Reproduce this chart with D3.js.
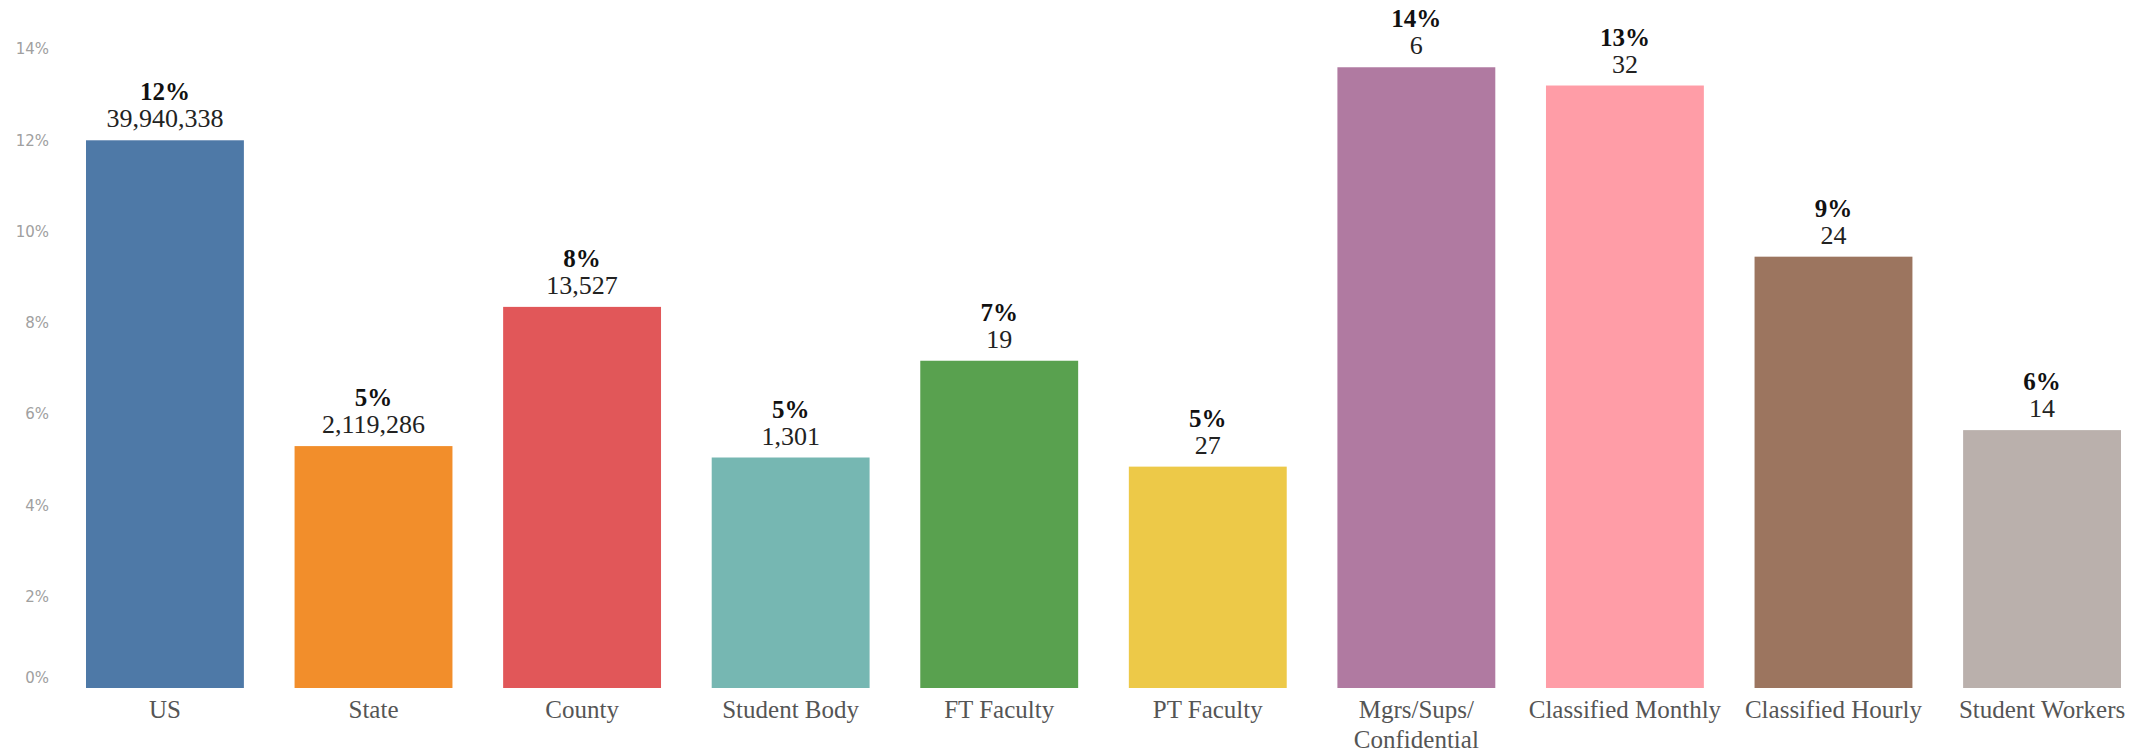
<!DOCTYPE html>
<html>
<head>
<meta charset="utf-8">
<script src="https://cdn.jsdelivr.net/npm/d3@7"></script>
<style>
  body { margin: 0; background: #fff; }
</style>
</head>
<body>
<div id="chart"></div>
<script>
// Groups along the x axis
var groups = ["US", "State", "County", "Student Body", "FT Faculty", "PT Faculty",
    "Mgrs/Sups/ Confidential", "Classified Monthly", "Classified Hourly", "Student Workers"];
// Share (in %)
var shares = [12.0, 5.3, 8.35, 5.05, 7.17, 4.85, 13.6, 13.2, 9.45, 5.65];
// Counts shown under the percentage
var counts = [39940338, 2119286, 13527, 1301, 19, 27, 6, 32, 24, 14];
var colors = ["#4e79a7", "#f28e2b", "#e15759", "#76b7b2", "#59a14f", "#edc948",
    "#b07aa1", "#ff9da7", "#9c755f", "#bab0ac"];
var yTicks = [0, 2, 4, 6, 8, 10, 12, 14];

var data = groups.map(function(g, i) {
    return { group: g, share: shares[i], count: counts[i], color: colors[i] };
});

var width = 2136, height = 754;
var plot = { left: 86, right: 2121, top: 49, bottom: 688 };

var svg = d3.select("#chart").append("svg")
    .attr("width", width)
    .attr("height", height);

// Scales
var x = d3.scaleBand()
    .domain(groups)
    .range([plot.left, plot.right])
    .paddingInner(0.243)
    .paddingOuter(0);

var y = d3.scaleLinear()
    .domain([0, 14])
    .range([plot.bottom, plot.top]);

// Y axis labels only (no line, no ticks)
var yAxis = svg.append("g")
    .attr("transform", "translate(" + 49 + ",0)")
    .call(d3.axisLeft(y).tickValues(yTicks).tickSize(0).tickPadding(0)
        .tickFormat(function(d) { return d + "%"; }));
yAxis.select(".domain").remove();
yAxis.selectAll("text")
    .attr("font-family", "'DejaVu Sans', sans-serif")
    .attr("font-size", "15px")
    .attr("fill", "#a0a0a0")
    .attr("dy", function(d) { return d === 0 ? "-0.4em" : "0.32em"; });

// Bars
svg.selectAll("rect.bar")
    .data(data)
    .enter()
    .append("rect")
    .attr("class", "bar")
    .attr("x", d => x(d.group))
    .attr("y", d => y(d.share))
    .attr("width", x.bandwidth())
    .attr("height", d => y(0) - y(d.share))
    .attr("fill", d => d.color);

// Count labels
svg.selectAll("text.count")
    .data(data)
    .enter()
    .append("text")
    .attr("class", "count")
    .attr("x", d => x(d.group) + x.bandwidth() / 2)
    .attr("y", d => y(d.share) - 13)
    .attr("text-anchor", "middle")
    .attr("font-family", "'Liberation Serif', 'Times New Roman', serif")
    .attr("font-size", "26px")
    .attr("fill", "#222")
    .text(d => d3.format(",")(d.count));

// Percentage labels
svg.selectAll("text.pct")
    .data(data)
    .enter()
    .append("text")
    .attr("class", "pct")
    .attr("x", d => x(d.group) + x.bandwidth() / 2)
    .attr("y", d => y(d.share) - 40)
    .attr("text-anchor", "middle")
    .attr("font-family", "'Liberation Serif', 'Times New Roman', serif")
    .attr("font-size", "25px")
    .attr("font-weight", "bold")
    .attr("fill", "#111")
    .text(d => Math.round(d.share) + "%");

// Category labels under the bars (the Mgrs label wraps onto two lines)
var xLabels = svg.selectAll("text.xlabel")
    .data(data)
    .enter()
    .append("text")
    .attr("class", "xlabel")
    .attr("x", d => x(d.group) + x.bandwidth() / 2)
    .attr("y", plot.bottom + 30)
    .attr("text-anchor", "middle")
    .attr("font-family", "'Liberation Serif', 'Times New Roman', serif")
    .attr("font-size", "25px")
    .attr("fill", "#555");

xLabels.each(function(d) {
    var lines = d.group.indexOf("/ ") >= 0 ? d.group.split(" ") : [d.group];
    var t = d3.select(this);
    lines.forEach(function(line, i) {
        t.append("tspan")
            .attr("x", x(d.group) + x.bandwidth() / 2)
            .attr("dy", i === 0 ? 0 : 30)
            .text(line);
    });
});
</script>
</body>
</html>
